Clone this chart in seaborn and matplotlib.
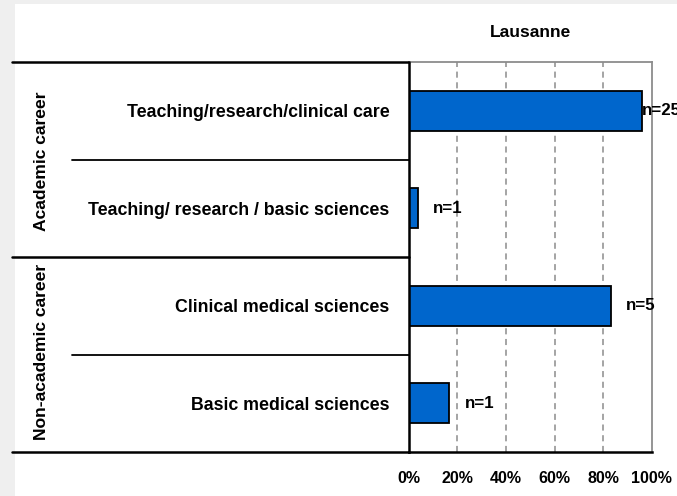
import numpy as np
import pandas as pd
import seaborn as sns
import matplotlib.pyplot as plt
import matplotlib.transforms as mtransforms
from matplotlib.lines import Line2D
from matplotlib.patches import Rectangle

sns.set_style("white")
plt.rcParams['font.family'] = ['Liberation Sans', 'DejaVu Sans']
plt.rcParams['font.weight'] = 'bold'
plt.rcParams['text.color'] = 'black'
plt.rcParams['xtick.color'] = 'black'
plt.rcParams['ytick.color'] = 'black'

# data
categories = ["Teaching/research/clinical care",
              "Teaching/ research / basic sciences",
              "Clinical medical sciences",
              "Basic medical sciences"]
groups = ["Academic career", "Non-academic career"]
percent = [96.2, 3.8, 83.3, 16.7]
n_labels = ["n=25", "n=1", "n=5", "n=1"]
n_offset = [0, 15, 15, 15]  # px gap between bar end and label
xticks = [0, 20, 40, 60, 80, 100]
xtick_labels = ["0%", "20%", "40%", "60%", "80%", "100%"]

df = pd.DataFrame({"category": categories, "percent": percent})

fig = plt.figure(figsize=(6.77, 4.96), dpi=100)
fig.patch.set_facecolor("#efefef")
fig.add_artist(Rectangle((15 / 677, 0), 1, 1 - 4 / 496, transform=fig.transFigure,
                         facecolor="white", edgecolor="none", zorder=0))

ax = fig.add_axes([409 / 677, 1 - 452 / 496, 242.5 / 677, 390 / 496])
ax.set_facecolor("white")
sns.barplot(data=df, x="percent", y="category", orient="h", color="#0066cc",
            edgecolor="black", linewidth=1.3, width=0.41, saturation=1, ax=ax)

ax.set_xlim(0, 100)
ax.set_ylim(3.5, -0.5)
ax.set_xticks(xticks)
ax.set_xticklabels(xtick_labels, fontsize=11.5, fontweight="bold")
ax.set_yticks(range(len(categories)))
ax.set_yticklabels(categories, fontsize=12.8, fontweight="bold")
ax.tick_params(axis="x", direction="out", length=4, width=1.5, pad=10, color="black")
ax.tick_params(axis="y", length=0, pad=14)
ax.set_xlabel("")
ax.set_ylabel("")

for x in xticks[1:-1]:
    ax.axvline(x, color="#8c8c8c", linestyle=(0, (4, 3)), linewidth=1.1, zorder=0)

for side in ["top", "right"]:
    ax.spines[side].set_color("#8c8c8c")
    ax.spines[side].set_linewidth(1.3)
for side in ["left", "bottom"]:
    ax.spines[side].set_color("black")
    ax.spines[side].set_linewidth(1.8)

for i, (v, lab, off) in enumerate(zip(percent, n_labels, n_offset)):
    ax.annotate(lab, xy=(v, i), xytext=(off, 0), textcoords="offset pixels",
                ha="left", va="center", fontsize=12.2, fontweight="bold",
                annotation_clip=False)

ax.set_title("Lausanne", fontsize=12.5, fontweight="bold", pad=18)

# table lines to the left of the axis
trans = mtransforms.blended_transform_factory(fig.transFigure, ax.transData)
for y, x0 in [(-0.5, 12), (0.5, 72), (1.5, 12), (2.5, 72), (3.5, 12)]:
    fig.add_artist(Line2D([x0 / 677, 409 / 677], [y, y], transform=trans,
                          color="black", linewidth=1.8 if x0 == 12 else 1.3))

for y, g in zip([0.52, 2.47], groups):
    fig.text(42 / 677, y, g, transform=trans, rotation=90, ha="center", va="center",
             fontsize=12.6, fontweight="bold")

fig.savefig("out.png", dpi=100, facecolor=fig.get_facecolor())
